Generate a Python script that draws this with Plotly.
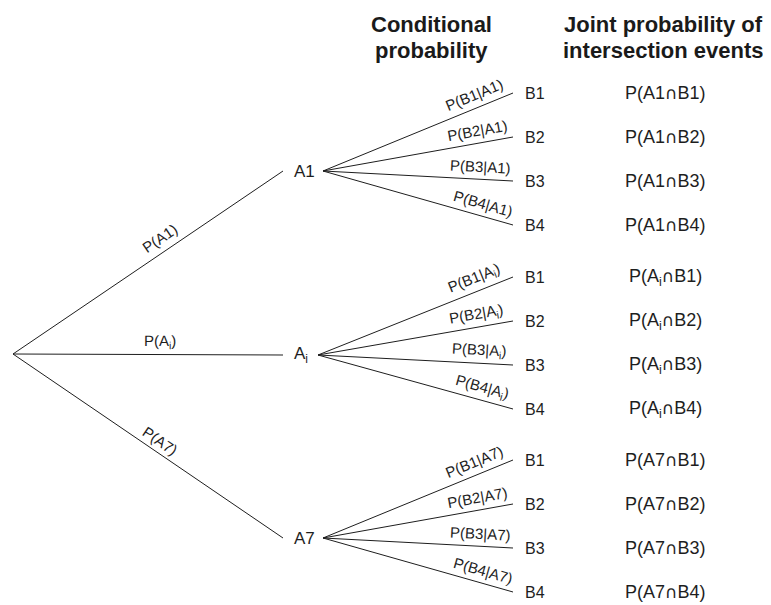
import math
import plotly.graph_objects as go

# ---- data (tree structure and labels) ----
first_level = ["A1", "A<sub>i</sub>", "A7"]
first_probs = ["P(A1)", "P(A<sub>i</sub>)", "P(A7)"]
second_level = ["B1", "B2", "B3", "B4"]
cond_probs = [
    ["P(B1|A1)", "P(B2|A1)", "P(B3|A1)", "P(B4|A1)"],
    ["P(B1|A<sub>i</sub>)", "P(B2|A<sub>i</sub>)", "P(B3|A<sub>i</sub>)", "P(B4|A<sub>i</sub>)"],
    ["P(B1|A7)", "P(B2|A7)", "P(B3|A7)", "P(B4|A7)"],
]
joint_probs = [
    ["P(A1∩B1)", "P(A1∩B2)", "P(A1∩B3)", "P(A1∩B4)"],
    ["P(A<sub>i</sub>∩B1)", "P(A<sub>i</sub>∩B2)", "P(A<sub>i</sub>∩B3)", "P(A<sub>i</sub>∩B4)"],
    ["P(A7∩B1)", "P(A7∩B2)", "P(A7∩B3)", "P(A7∩B4)"],
]
header_left = ["Conditional", "probability"]
header_right = ["Joint probability of", "intersection events"]

# ---- layout geometry (coordinates = page pixels, y downward) ----
PAGE_W, PAGE_H = 771, 605
OFF = 8  # default page margin around the plot div
root = (13, 354)
a_end_x = 283        # where first-level lines stop
a_label_x = 292      # left edge of A labels
a_junc_x = [323, 318, 323]
a_y = [171, 355, 538]
b_offsets = [-78, -34, 10, 54]
b_end_x = 513
b_label_x = 523
joint_x = 665

FONT = "Liberation Sans, Arial, Helvetica, sans-serif"
INK = "#1e1e1e"

fig = go.Figure()
ann = []


def add_line(x0, y0, x1, y1):
    fig.add_trace(go.Scatter(x=[x0, x1], y=[y0, y1], mode="lines",
                             line=dict(color=INK, width=1), hoverinfo="skip",
                             showlegend=False))


def along_label(text, x0, y0, x1, y1, frac, offset, size):
    dx, dy = x1 - x0, y1 - y0
    L = math.hypot(dx, dy)
    ang = math.degrees(math.atan2(dy, dx))
    nx, ny = dy / L, -dx / L
    if ny > 0:
        nx, ny = -nx, -ny
    px = x0 + dx * frac + nx * offset
    py = y0 + dy * frac + ny * offset
    ann.append(dict(x=px, y=py, text=text, showarrow=False, textangle=ang,
                    font=dict(family=FONT, size=size, color=INK),
                    xanchor="center", yanchor="middle"))


def big_cap(text):
    return text.replace("∩", '<span style="font-family:DejaVu Sans;font-size:17px">∩</span>')


first_frac = [0.57, 0.545, 0.52]
first_off = [13, 13, 11]

for i, a in enumerate(first_level):
    ay = a_y[i]
    add_line(root[0], root[1], a_end_x, ay)
    along_label(first_probs[i], root[0], root[1], a_end_x, ay,
                first_frac[i], first_off[i], 15)
    ann.append(dict(x=a_label_x, y=ay, text=a, showarrow=False, xanchor="left",
                    yanchor="middle", font=dict(family=FONT, size=17, color=INK)))
    jx = a_junc_x[i]
    for j, b in enumerate(second_level):
        by = ay + b_offsets[j]
        add_line(jx, ay, b_end_x, by)
        along_label(cond_probs[i][j], jx, ay, b_end_x, by, 0.825, 13, 15)
        ann.append(dict(x=b_label_x, y=by, text=b, showarrow=False, xanchor="left",
                        yanchor="middle", font=dict(family=FONT, size=16, color=INK)))
        ann.append(dict(x=joint_x, y=by, text=big_cap(joint_probs[i][j]), showarrow=False,
                        xanchor="center", yanchor="middle",
                        font=dict(family=FONT, size=18, color=INK)))

title_y = [24, 50]
for k in range(2):
    ann.append(dict(x=431, y=title_y[k], text="<b>" + header_left[k] + "</b>",
                    showarrow=False, xanchor="center", yanchor="middle",
                    font=dict(family=FONT, size=22, color="#1a1a1a")))
    ann.append(dict(x=663, y=title_y[k], text="<b>" + header_right[k] + "</b>",
                    showarrow=False, xanchor="center", yanchor="middle",
                    font=dict(family=FONT, size=22, color="#1a1a1a")))

fig.update_layout(
    width=PAGE_W - OFF, height=PAGE_H - OFF, margin=dict(l=0, r=0, t=0, b=0),
    paper_bgcolor="white", plot_bgcolor="white",
    xaxis=dict(range=[OFF, PAGE_W], visible=False, fixedrange=True),
    yaxis=dict(range=[PAGE_H, OFF], visible=False, fixedrange=True),
    annotations=ann, showlegend=False,
)
fig.write_html("out.html")
